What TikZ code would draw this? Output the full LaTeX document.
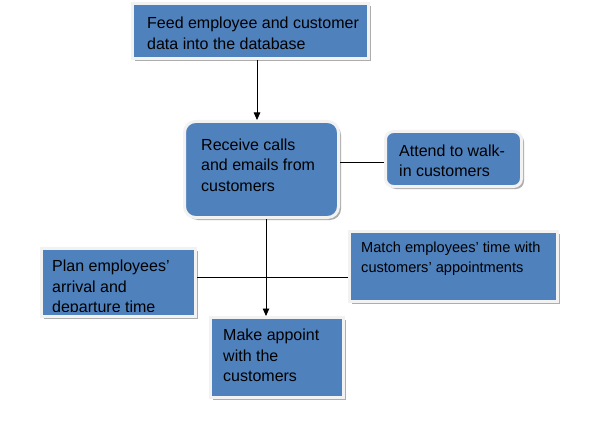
\documentclass[tikz,border=0pt]{standalone}
\usepackage{fontspec}
\setmainfont{Liberation Sans}
\usetikzlibrary{arrows.meta,shadows}
\definecolor{boxblue}{HTML}{4F81BD}
\definecolor{boxrim}{HTML}{F2F2F2}
\tikzset{
  box/.style={rectangle, fill=boxblue, draw=boxrim, line width=3pt, inner sep=0pt,
    drop shadow={shadow xshift=2.5pt, shadow yshift=-2.5pt, fill=black!40, opacity=0.8}},
  rbox/.style={box, rounded corners=#1},
  txt/.style={anchor=base west, inner sep=0pt, align=left, text=black,
    font=\fontsize{16}{20.5}\selectfont},
  stxt/.style={txt, font=\fontsize{14.6}{20}\selectfont},
  conn/.style={draw=black, line width=0.8pt},
  arr/.style={conn, -{Triangle[width=6.5pt,length=7.5pt]}}
}
\begin{document}
\begin{tikzpicture}[x=1pt,y=-1pt]
\path[fill=white] (0,0) rectangle (593,422);
\useasboundingbox (0,0) rectangle (593,422);

% boxes (size = blue area + 3pt)
\node[box, minimum width=236pt, minimum height=55pt] (b1) at (250.5,31) {};
\node[rbox=11pt, minimum width=154pt, minimum height=96pt] (b2) at (261.5,169.5) {};
\node[rbox=8pt, minimum width=136pt, minimum height=55pt] (b3) at (453.5,159) {};
\node[box, minimum width=154pt, minimum height=68pt] (b4) at (118.5,282.5) {};
\node[box, minimum width=208pt, minimum height=70pt] (b5) at (453.5,266.5) {};
\node[box, minimum width=133pt, minimum height=80pt] (b6) at (277,357.5) {};

% texts (anchored at the baseline of their last line)
\node[txt] (t1) at (147,49.5) {Feed employee and customer\\data into the database};
\node[txt] (t2) at (201,191) {Receive calls\\and emails from\\customers};
\node[txt] (t3) at (399,176.7) {Attend to walk-\\in customers};
\begin{scope}
  \clip (b4.north west) rectangle ([yshift=6.5pt]b4.south east);
  \node[txt] (t4) at (52,312.5) {Plan employees’\\arrival and\\departure time};
\end{scope}
\node[stxt] (t5) at (361,272) {Match employees’ time with\\customers’ appointments};
\node[txt] (t6) at (223,381.7) {Make appoint\\with the\\customers};

% connectors
\coordinate (h) at (0,277);
\draw[arr] ([xshift=6.5pt]b1.south) -- ([xshift=6.5pt]b1.south |- b2.north);
\draw[conn] ([yshift=-3pt]b3.west -| b2.east) -- ([yshift=-3pt]b3.west);
\draw[conn] (b4.east |- h) -- (b5.west |- h);
\draw[arr] ([xshift=-11pt]b6.north |- b2.south) -- ([xshift=-11pt]b6.north);
\end{tikzpicture}
\end{document}
